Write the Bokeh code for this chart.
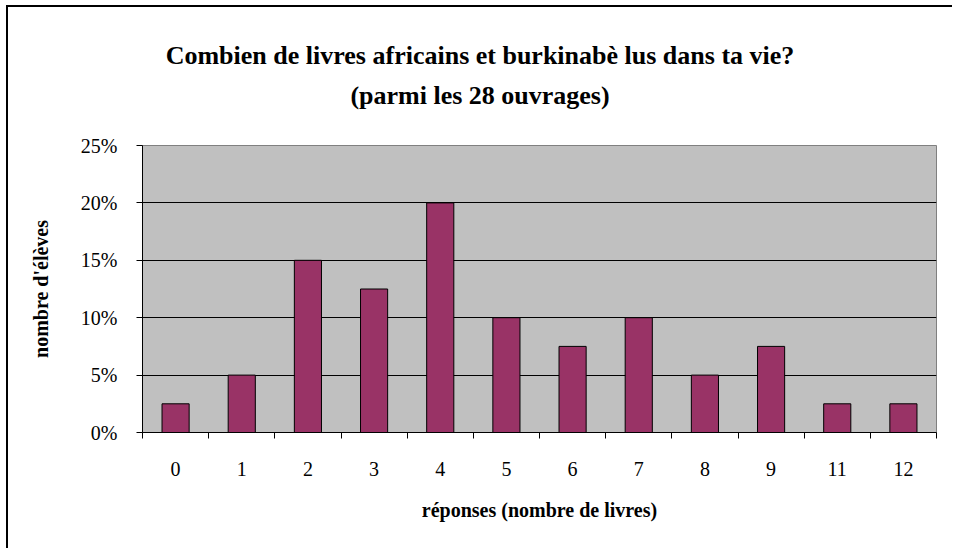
from bokeh.plotting import figure
from bokeh.layouts import column
from bokeh.models import (Range1d, LinearAxis, FixedTicker, ColumnDataSource, Div,
                          NumeralTickFormatter, CustomJSTickFormatter)
from bokeh.embed import file_html
from bokeh.resources import INLINE

categories = ["0", "1", "2", "3", "4", "5", "6", "7", "8", "9", "11", "12"]
shares = [0.025, 0.05, 0.15, 0.125, 0.20, 0.10, 0.075, 0.10, 0.05, 0.075, 0.025, 0.025]
y_ticks = [0, 0.05, 0.10, 0.15, 0.20, 0.25]
title_lines = ["Combien de livres africains et burkinabè lus dans ta vie?",
               "(parmi les 28 ouvrages)"]
x_label = "réponses (nombre de livres)"
y_label = "nombre d'élèves"

FONT = "Liberation Serif"
n = len(categories)
slots = [i + 0.5 for i in range(n)]  # slot centre of each category

title = Div(text="<div style=\"text-align:center; font-family:Liberation Serif,serif; font-weight:bold; "
                 "font-size:26px; line-height:40px; padding-top:29px; color:black; width:944px\">"
                 + "<br>".join(title_lines) + "</div>",
            width=944, height=110, margin=0)
title.styles = {"font-family": "Liberation Serif, serif"}

p = figure(width=944, height=431, x_range=Range1d(0, n), y_range=Range1d(0, 0.25),
           output_backend="svg", toolbar_location=None, x_axis_location=None, y_axis_location=None,
           min_border_left=134, min_border_right=16, min_border_top=28, min_border_bottom=116,
           margin=0)
p.background_fill_color = "#C0C0C0"
p.outline_line_color = "#808080"
p.xgrid.grid_line_color = None
p.ygrid.grid_line_color = "black"
p.ygrid.ticker = FixedTicker(ticks=y_ticks)

src = ColumnDataSource(dict(x=slots, top=shares, cat=categories))
p.vbar(x="x", top="top", width=0.41, source=src, fill_color="#993366", line_color="black", line_width=1)

# y axis
yax = LinearAxis(ticker=FixedTicker(ticks=y_ticks), formatter=NumeralTickFormatter(format="0%"))
yax.axis_line_color = "black"
yax.major_tick_line_color = "black"
yax.major_tick_in = 0
yax.major_tick_out = 6
yax.minor_tick_line_color = None
yax.major_label_text_font = FONT
yax.major_label_text_font_size = "20px"
yax.major_label_text_color = "black"
yax.major_label_standoff = 19
yax.axis_label = y_label
yax.axis_label_text_font = FONT
yax.axis_label_text_font_style = "bold"
yax.axis_label_text_font_size = "20px"
yax.axis_label_text_color = "black"
yax.axis_label_standoff = 26
p.add_layout(yax, "left")

# tick-only axis at category boundaries
tax = LinearAxis(ticker=FixedTicker(ticks=list(range(n + 1))),
                 formatter=CustomJSTickFormatter(code="return ''"))
tax.axis_line_color = "black"
tax.major_tick_line_color = "black"
tax.major_tick_in = 0
tax.major_tick_out = 6
tax.minor_tick_line_color = None
tax.major_label_text_font_size = "1px"
tax.major_label_standoff = 0
p.add_layout(tax, "below")

# category labels axis
xax = LinearAxis(ticker=FixedTicker(ticks=slots),
                 major_label_overrides={s: c for s, c in zip(slots, categories)})
xax.axis_line_color = None
xax.major_tick_line_color = None
xax.minor_tick_line_color = None
xax.major_label_text_font = FONT
xax.major_label_text_font_size = "20px"
xax.major_label_text_color = "black"
xax.major_label_standoff = 17
xax.axis_label = x_label
xax.axis_label_text_font = FONT
xax.axis_label_text_font_style = "bold"
xax.axis_label_text_font_size = "20px"
xax.axis_label_text_color = "black"
xax.axis_label_standoff = 20
p.add_layout(xax, "below")

layout = column(title, p, spacing=0)
layout.styles = {"border-left": "2px solid black", "border-top": "2px solid black",
                 "margin-left": "6px", "margin-top": "5px"}

open("out.html", "w").write(file_html(layout, INLINE))
